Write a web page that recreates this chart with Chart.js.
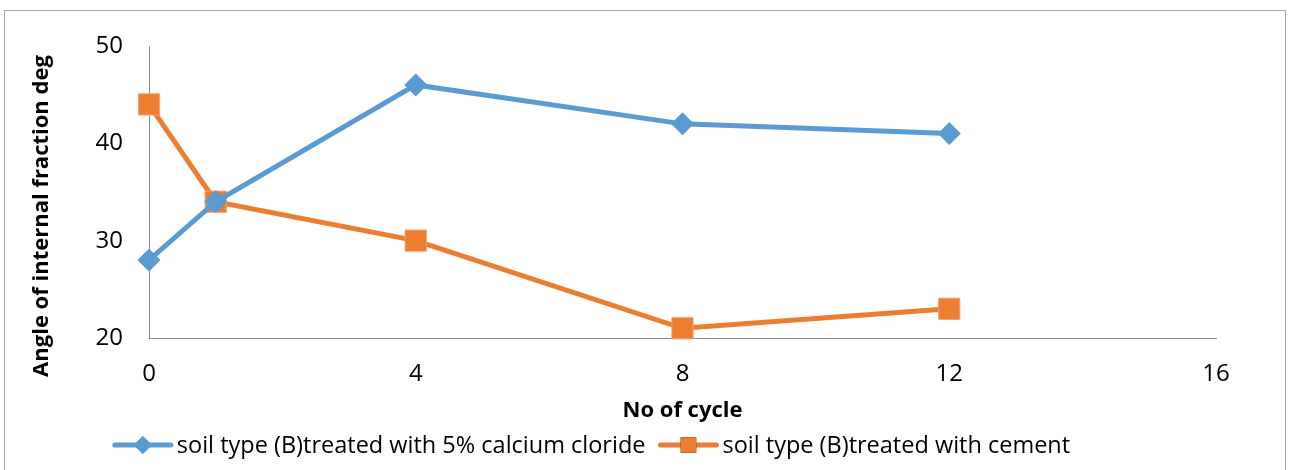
<!DOCTYPE html>
<html>
<head>
<meta charset="utf-8">
<script src="https://cdn.jsdelivr.net/npm/chart.js@4"></script>
<style>
  html, body { margin: 0; padding: 0; background: #fff; }
  #wrap { width: 1290px; height: 470px; position: relative; }
</style>
</head>
<body>
<div id="wrap"><canvas id="chart" width="1290" height="470"></canvas></div>
<script>
const cycles = [0, 1, 4, 8, 12];
const calciumChloride = [28, 34, 46, 42, 41];
const cement = [44, 34, 30, 21, 23];
const xTicks = [0, 4, 8, 12, 16];
const yTicks = [20, 30, 40, 50];

const seriesNames = [
  'soil type (B)treated with 5% calcium cloride',
  'soil type (B)treated with cement',
];
const xTitle = 'No of cycle';
const yTitle = 'Angle of internal fraction deg';

const blue = '#5B9BD5';
const orange = '#ED7D31';
const fontFamily = '"Open Sans", "Liberation Sans", sans-serif';

const toPoints = (ys) => cycles.map((x, i) => ({ x, y: ys[i] }));

// rahmen um das ganze diagramm
const frame = {
  id: 'frame',
  beforeDraw(chart) {
    const ctx = chart.ctx;
    ctx.save();
    ctx.fillStyle = '#fff';
    ctx.fillRect(0, 0, chart.width, chart.height);
    ctx.strokeStyle = '#a6a6a6';
    ctx.lineWidth = 1;
    ctx.strokeRect(4.5, 10.5, chart.width - 9, chart.height);
    ctx.restore();
  },
};

// y-titel etwas unter der mitte, wie im original
const yTitlePlugin = {
  id: 'yTitlePlugin',
  afterDraw(chart) {
    const ctx = chart.ctx;
    ctx.save();
    ctx.translate(42, 216);
    ctx.rotate(-Math.PI / 2);
    ctx.font = 'bold 22px ' + fontFamily;
    ctx.fillStyle = '#000';
    ctx.textAlign = 'center';
    ctx.textBaseline = 'middle';
    ctx.fillText(yTitle, 0, 0);
    ctx.restore();
  },
};

// legende mit linie + marker wie in excel
const lineLegend = {
  id: 'lineLegend',
  afterDraw(chart) {
    const ctx = chart.ctx;
    const y = 445;
    const lineLen = 62;
    const gap = 3;
    const spacing = 12;
    ctx.save();
    ctx.font = '23.5px ' + fontFamily;
    ctx.textBaseline = 'middle';
    const items = chart.data.datasets.map((ds) => ({ ds, w: ctx.measureText(ds.label).width }));
    const total = items.reduce((s, it) => s + lineLen + gap + it.w, 0) + spacing;
    let x = 591 - total / 2;
    items.forEach((it) => {
      const ds = it.ds;
      ctx.strokeStyle = ds.borderColor;
      ctx.lineWidth = 5;
      ctx.lineCap = 'round';
      ctx.beginPath();
      ctx.moveTo(x + 3, y);
      ctx.lineTo(x + lineLen - 3, y);
      ctx.stroke();
      Chart.helpers.drawPoint(ctx, {
        pointStyle: ds.pointStyle,
        radius: ds.pointStyle === 'rect' ? 11 : 9,
        borderWidth: 0,
      }, x + lineLen / 2, y);
      ctx.fillStyle = ds.pointBackgroundColor;
      ctx.fill();
      ctx.fillStyle = '#000';
      ctx.fillText(ds.label, x + lineLen + gap, y + 1);
      x += lineLen + gap + it.w + spacing;
    });
    ctx.restore();
  },
};

new Chart(document.getElementById('chart'), {
  type: 'line',
  data: {
    datasets: [
      {
        label: seriesNames[0],
        data: toPoints(calciumChloride),
        borderColor: blue,
        borderWidth: 5,
        pointStyle: 'rectRot',
        pointRadius: 11,
        pointHoverRadius: 11,
        pointBackgroundColor: blue,
        pointBorderColor: blue,
        pointBorderWidth: 1,
        clip: false,
      },
      {
        label: seriesNames[1],
        data: toPoints(cement),
        borderColor: orange,
        borderWidth: 5,
        pointStyle: 'rect',
        pointRadius: 15,
        pointHoverRadius: 15,
        pointBackgroundColor: orange,
        pointBorderColor: '#F4A070',
        pointBorderWidth: 1,
        clip: false,
      },
    ],
  },
  options: {
    responsive: false,
    animation: false,
    layout: { padding: { left: 30, right: 74, top: 46, bottom: 46 } },
    plugins: { legend: { display: false }, tooltip: { enabled: false } },
    scales: {
      x: {
        type: 'linear',
        min: 0,
        max: 16,
        afterBuildTicks: (s) => { s.ticks = xTicks.map((v) => ({ value: v })); },
        afterFit: (s) => { s.height = 86; },
        grid: { display: false, drawTicks: false },
        border: { display: true, color: '#8c8c8c', width: 1 },
        ticks: { padding: 22, color: '#000', font: { family: fontFamily, size: 24 } },
        title: {
          display: true,
          text: xTitle,
          color: '#000',
          font: { family: fontFamily, size: 22, weight: 'bold' },
          padding: 0,
        },
      },
      y: {
        min: 20,
        max: 50,
        afterBuildTicks: (s) => { s.ticks = yTicks.map((v) => ({ value: v })); },
        afterFit: (s) => { s.width = 119; },
        grid: { display: false, drawTicks: false },
        border: { display: true, color: '#8c8c8c', width: 1 },
        ticks: { padding: 26, color: '#000', font: { family: fontFamily, size: 24 } },
        title: { display: false },
      },
    },
  },
  plugins: [frame, yTitlePlugin, lineLegend],
});
</script>
</body>
</html>
